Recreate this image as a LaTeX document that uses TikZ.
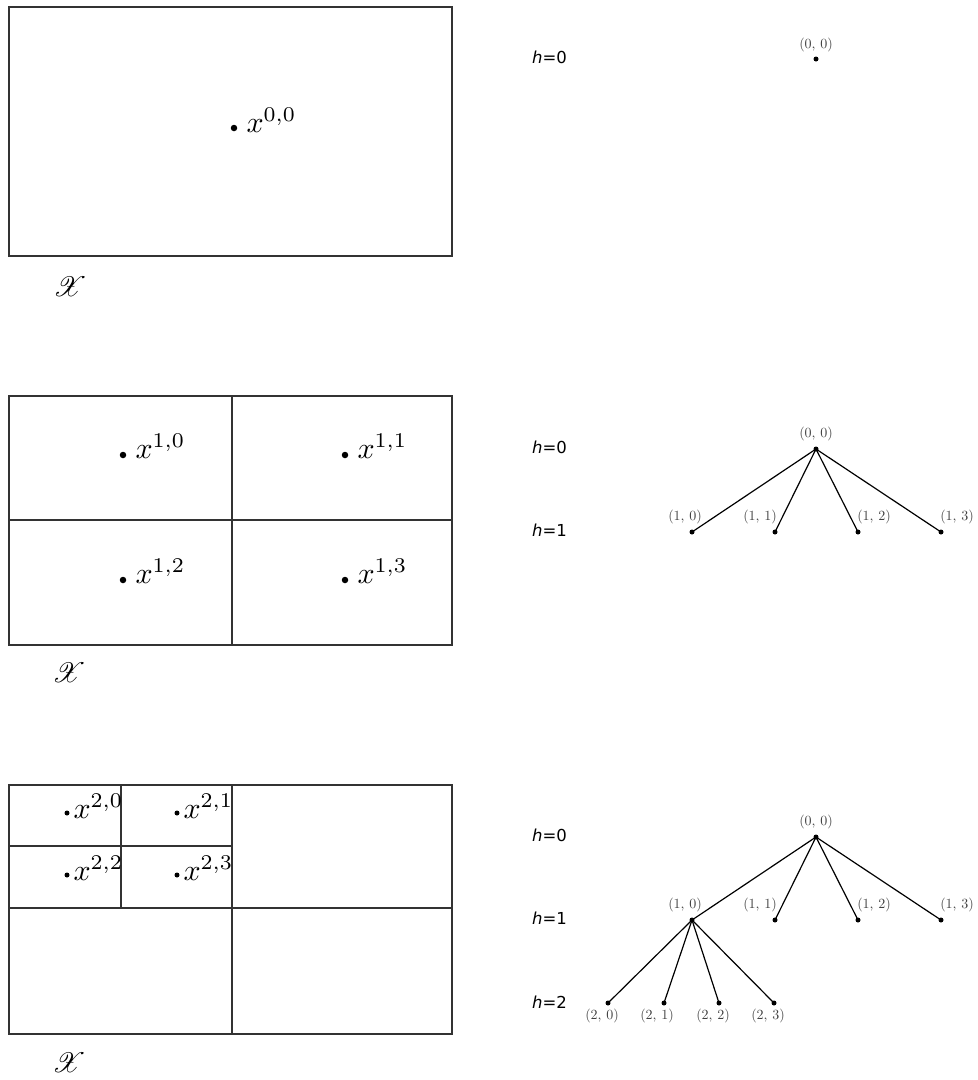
\documentclass[tikz,border=0pt]{standalone}
\usepackage{fontspec}
\usepackage{mathrsfs}
\newfontfamily\djv{DejaVu Sans}
\begin{document}
\begin{tikzpicture}[x=1pt,y=-1pt,
  region/.style={draw=black!80, line width=1.2pt},
  cpt/.style={circle, fill=black, inner sep=0pt, minimum size=6.5pt},
  spt/.style={circle, fill=black, inner sep=0pt, minimum size=5pt},
  ptlbl/.style={anchor=base west, inner sep=0pt, scale=3},
  scrlbl/.style={scale=2.8, inner sep=0pt},
  hlbl/.style={anchor=west, inner sep=0pt, font=\djv\fontsize{16.5}{19}\selectfont},
  tdot/.style={circle, fill=black, inner sep=0pt, minimum size=5pt},
  tlbl/.style={text=black!75, scale=1.4, inner sep=0pt},
  tline/.style={line width=1.2pt}]
\useasboundingbox (0,0) rectangle (978,1080);

% ---------- Panel 1 ----------
\draw[region] (9,7) rectangle (452,256);
\node[cpt] (p00) at (234,128) {};
\node[ptlbl] (t00) at (246,132) {$x^{0,0}$};
\node[scrlbl] (X1) at (70,287) {$\mathscr{X}$};

\node[hlbl] (h10) at (532,57) {{\itshape h}=0};
\node[tdot] (a00) at (816,59) {};
\node[tlbl] (la00) at (816,45) {(0, 0)};

% ---------- Panel 2 ----------
\draw[region] (9,396) rectangle (452,645);
\draw[region] (232,396) -- (232,645);
\draw[region] (9,520) -- (452,520);
\node[cpt] (p10) at (123,455) {};
\node[cpt] (p11) at (345,455) {};
\node[cpt] (p12) at (123,580) {};
\node[cpt] (p13) at (345,580) {};
\node[ptlbl] (t10) at (135,458) {$x^{1,0}$};
\node[ptlbl] (t11) at (357,458) {$x^{1,1}$};
\node[ptlbl] (t12) at (135,583) {$x^{1,2}$};
\node[ptlbl] (t13) at (357,583) {$x^{1,3}$};
\node[scrlbl] (X2) at (69,673) {$\mathscr{X}$};

\node[hlbl] (h20) at (532,447) {{\itshape h}=0};
\node[hlbl] (h21) at (532,530) {{\itshape h}=1};
\node[tdot] (b00) at (816,449) {};
\node[tdot] (b10) at (692,532) {};
\node[tdot] (b11) at (775,532) {};
\node[tdot] (b12) at (858,532) {};
\node[tdot] (b13) at (941,532) {};
\node[tlbl] (lb00) at ([shift={(0,-15)}]b00) {(0, 0)};
\node[tlbl] (lb10) at ([shift={(-7,-15)}]b10) {(1, 0)};
\node[tlbl] (lb11) at ([shift={(-15,-15)}]b11) {(1, 1)};
\node[tlbl] (lb12) at ([shift={(16,-15)}]b12) {(1, 2)};
\node[tlbl] (lb13) at ([shift={(16,-15)}]b13) {(1, 3)};
\foreach \c in {b10,b11,b12,b13} \draw[tline] (b00.center) -- (\c.center);

% ---------- Panel 3 ----------
\draw[region] (9,785) rectangle (452,1034);
\draw[region] (232,785) -- (232,1034);
\draw[region] (9,908) -- (452,908);
\draw[region] (121,785) -- (121,908);
\draw[region] (9,846) -- (232,846);
\node[spt] (p20) at (67,813) {};
\node[spt] (p21) at (177,813) {};
\node[spt] (p22) at (67,875) {};
\node[spt] (p23) at (177,875) {};
\node[ptlbl] (t20) at (73,818) {$x^{2,0}$};
\node[ptlbl] (t21) at (183,818) {$x^{2,1}$};
\node[ptlbl] (t22) at (73,880) {$x^{2,2}$};
\node[ptlbl] (t23) at (183,880) {$x^{2,3}$};
\node[scrlbl] (X3) at (69,1063) {$\mathscr{X}$};

\node[hlbl] (h30) at (532,835) {{\itshape h}=0};
\node[hlbl] (h31) at (532,918) {{\itshape h}=1};
\node[hlbl] (h32) at (532,1002) {{\itshape h}=2};
\node[tdot] (c00) at (816,837) {};
\node[tdot] (c10) at (692,920) {};
\node[tdot] (c11) at (775,920) {};
\node[tdot] (c12) at (858,920) {};
\node[tdot] (c13) at (941,920) {};
\node[tdot] (c20) at (608,1003) {};
\node[tdot] (c21) at (664,1003) {};
\node[tdot] (c22) at (719,1003) {};
\node[tdot] (c23) at (774,1003) {};
\node[tlbl] (lc00) at ([shift={(0,-15)}]c00) {(0, 0)};
\node[tlbl] (lc10) at ([shift={(-7,-15)}]c10) {(1, 0)};
\node[tlbl] (lc11) at ([shift={(-15,-15)}]c11) {(1, 1)};
\node[tlbl] (lc12) at ([shift={(16,-15)}]c12) {(1, 2)};
\node[tlbl] (lc13) at ([shift={(16,-15)}]c13) {(1, 3)};
\node[tlbl] (lc20) at ([shift={(-6,13)}]c20) {(2, 0)};
\node[tlbl] (lc21) at ([shift={(-7,13)}]c21) {(2, 1)};
\node[tlbl] (lc22) at ([shift={(-6,13)}]c22) {(2, 2)};
\node[tlbl] (lc23) at ([shift={(-6,13)}]c23) {(2, 3)};
\foreach \c in {c10,c11,c12,c13} \draw[tline] (c00.center) -- (\c.center);
\foreach \c in {c20,c21,c22,c23} \draw[tline] (c10.center) -- (\c.center);
\end{tikzpicture}
\end{document}
